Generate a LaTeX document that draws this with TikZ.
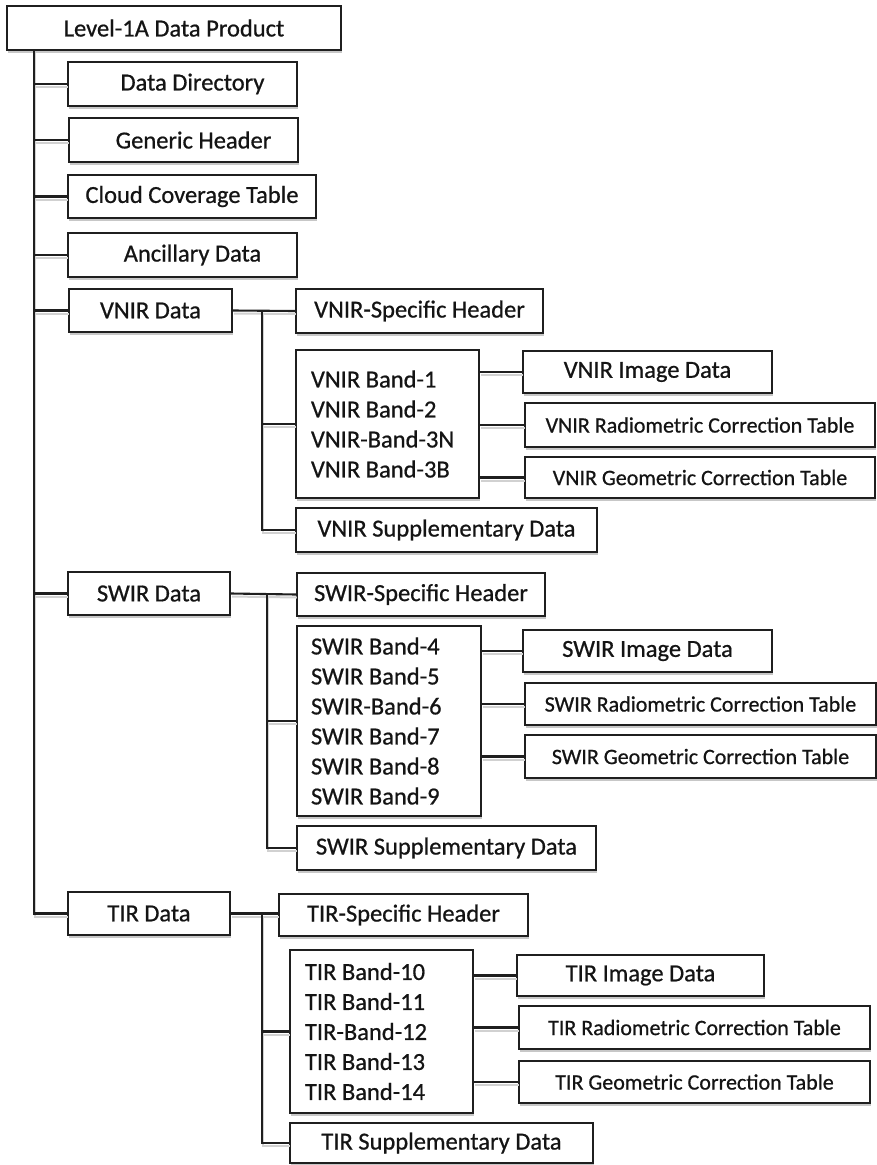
\documentclass[tikz,border=0pt]{standalone}
\usepackage{fontspec}
\setmainfont{Carlito}[FakeBold=0.7]
\usetikzlibrary{shadows}

\tikzset{
  box/.style={draw=black!88, line width=2.1pt, fill=white, inner sep=0pt,
    text=black!92, font=\fontsize{24.5}{30}\selectfont,
    execute at begin node={\spaceskip=0pt\xspaceskip=0pt\relax},
    drop shadow={shadow xshift=1.2pt, shadow yshift=-2.8pt, fill=black!22, opacity=1}},
  small/.style={font=\fontsize{22}{27}\selectfont},
  bands/.style={box, align=left, inner xsep=15pt},
  wire/.style={draw=black!88, line width=2.1pt,
    preaction={draw=black!18, line width=2pt, transform canvas={xshift=1pt, yshift=-3pt}}}
}

\begin{document}
\begin{tikzpicture}[x=1pt, y=-1pt]
\useasboundingbox (0,0) rectangle (876,1165);

% top level
\node[box, minimum width=334pt, minimum height=44pt] (root) at (174,28) {Level-1A Data Product};
\node[box, minimum width=229pt, minimum height=44pt] (dd) at (182.5,84) {\hspace*{20pt}Data Directory};
\node[box, minimum width=229pt, minimum height=44pt] (gh) at (183.5,140) {\hspace*{20pt}Generic Header};
\node[box, minimum width=248pt, minimum height=43pt] (cct) at (192,196.5) {Cloud Coverage Table};
\node[box, minimum width=229pt, minimum height=44pt] (ad) at (182.5,255) {\hspace*{20pt}Ancillary Data};

% VNIR
\node[box, minimum width=163pt, minimum height=43pt] (vnir) at (150.5,310.5) {VNIR Data};
\node[box, minimum width=247pt, minimum height=44pt] (vsh) at (419.5,311) {VNIR-Specific Header};
\node[bands, text width=153pt, minimum height=148pt] (vb) at (387.5,424)
  {VNIR Band-1\\VNIR Band-2\\VNIR-Band-3N\\VNIR Band-3B};
\node[box, minimum width=301pt, minimum height=44pt] (vsup) at (446.5,530) {VNIR Supplementary Data};
\node[box, minimum width=249pt, minimum height=42pt] (vimg) at (647.5,372) {VNIR Image Data};
\node[box, small, minimum width=350pt, minimum height=44pt] (vrad) at (700,425) {VNIR Radiometric Correction Table};
\node[box, small, minimum width=350pt, minimum height=41pt] (vgeo) at (700,477.5) {VNIR Geometric Correction Table};

% SWIR
\node[box, minimum width=162pt, minimum height=43pt] (swir) at (149,593.5) {SWIR Data};
\node[box, minimum width=248pt, minimum height=43pt] (ssh) at (421,594.5) {SWIR-Specific Header};
\node[bands, text width=156pt, inner xsep=14pt, minimum height=190pt] (sb) at (389,721)
  {SWIR Band-4\\SWIR Band-5\\SWIR-Band-6\\SWIR Band-7\\SWIR Band-8\\SWIR Band-9};
\node[box, minimum width=299pt, minimum height=44pt] (ssup) at (446.5,848) {SWIR Supplementary Data};
\node[box, minimum width=249pt, minimum height=42pt] (simg) at (647.5,651) {SWIR Image Data};
\node[box, small, minimum width=351pt, minimum height=42pt] (srad) at (700.5,704) {SWIR Radiometric Correction Table};
\node[box, small, minimum width=351pt, minimum height=43pt] (sgeo) at (700.5,756.5) {SWIR Geometric Correction Table};

% TIR
\node[box, minimum width=162pt, minimum height=43pt] (tir) at (149,913.5) {TIR Data};
\node[box, minimum width=249pt, minimum height=42pt] (tsh) at (403.5,915) {TIR-Specific Header};
\node[bands, text width=153pt, minimum height=163pt] (tb) at (381.5,1031.5)
  {TIR Band-10\\TIR Band-11\\TIR-Band-12\\TIR Band-13\\TIR Band-14};
\node[box, minimum width=303pt, minimum height=40pt] (tsup) at (441.5,1143) {TIR Supplementary Data};
\node[box, minimum width=247pt, minimum height=41pt] (timg) at (640.5,975.5) {TIR Image Data};
\node[box, small, minimum width=351pt, minimum height=43pt] (trad) at (694.5,1027.5) {TIR Radiometric Correction Table};
\node[box, small, minimum width=351pt, minimum height=42pt] (tgeo) at (694.5,1082) {TIR Geometric Correction Table};

% bus positions
\coordinate (trunk) at (34,50);
\coordinate (vbus) at (262,0);
\coordinate (sbus) at (267,0);
\coordinate (tbus) at (262,0);

% main trunk
\draw[wire] (trunk) |- (tir.west);
\foreach \n in {dd,gh,cct,ad,vnir,swir}
  \draw[wire] (trunk |- \n.west) -- (\n.west);

% VNIR branch
\draw[wire] (vnir.east) -- (vsh.west);
\draw[wire] (vbus |- vnir.east) |- (vsup.west);
\draw[wire] (vbus |- vb.west) -- (vb.west);
\foreach \n in {vimg,vrad,vgeo}
  \draw[wire] (vb.east |- \n.west) -- (\n.west);

% SWIR branch
\draw[wire] (swir.east) -- (ssh.west);
\draw[wire] (sbus |- swir.east) |- (ssup.west);
\draw[wire] (sbus |- sb.west) -- (sb.west);
\foreach \n in {simg,srad,sgeo}
  \draw[wire] (sb.east |- \n.west) -- (\n.west);

% TIR branch
\draw[wire] (tir.east) -- (tir.east -| tsh.west);
\draw[wire] (tbus |- tir.east) |- (tsup.west);
\draw[wire] (tbus |- tb.west) -- (tb.west);
\foreach \n in {timg,trad,tgeo}
  \draw[wire] (tb.east |- \n.west) -- (\n.west);
\end{tikzpicture}
\end{document}
